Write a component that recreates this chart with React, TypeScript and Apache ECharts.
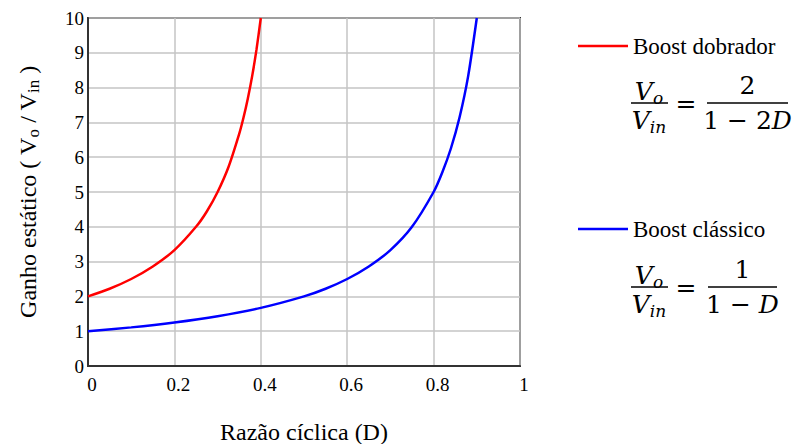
import React, { useEffect, useRef } from 'react';
import * as echarts from 'echarts';

// Boost dobrador: Vo/Vin = 2/(1-2D)
const dutyDobrador = [0, 0.05, 0.1, 0.15, 0.2, 0.25, 0.275, 0.3, 0.325, 0.35, 0.36, 0.37, 0.38, 0.39, 0.4];
const gainDobrador = [2, 2.22, 2.5, 2.86, 3.33, 4, 4.44, 5, 5.71, 6.67, 7.14, 7.69, 8.33, 9.09, 10];
// Boost clássico: Vo/Vin = 1/(1-D)
const dutyClassico = [0, 0.1, 0.2, 0.3, 0.4, 0.5, 0.55, 0.6, 0.65, 0.7, 0.75, 0.8, 0.82, 0.84, 0.86, 0.88, 0.9];
const gainClassico = [1, 1.11, 1.25, 1.43, 1.67, 2, 2.22, 2.5, 2.86, 3.33, 4, 5, 5.56, 6.25, 7.14, 8.33, 10];
const seriesNames = ['Boost dobrador', 'Boost clássico'];
const xTitle = 'Razão cíclica (D)';

const SERIF = 'Liberation Serif, serif';
const MATH = 'DejaVu Serif, serif';

export default function App() {
  const ref = useRef<HTMLDivElement>(null);
  useEffect(() => {
    if (!ref.current) return;
    const chart = echarts.init(ref.current, undefined, { renderer: 'svg' });
    const rich = {
      v: { fontFamily: MATH, fontSize: 25, fontStyle: 'italic', lineHeight: 30, color: '#000' },
      s: { fontFamily: MATH, fontSize: 17, fontStyle: 'italic', lineHeight: 14, verticalAlign: 'bottom', color: '#000' },
      n: { fontFamily: MATH, fontSize: 25, lineHeight: 30, color: '#000' },
    };
    const txt = (x: number, y: number, text: string) => ({
      type: 'text', x, y, silent: true,
      style: { text, textAlign: 'center', textVerticalAlign: 'middle', rich, fill: '#000', fontFamily: MATH, fontSize: 25 },
    });
    const bar = (x1: number, x2: number, y: number) => ({
      type: 'line', silent: true,
      shape: { x1, y1: y, x2, y2: y },
      style: { stroke: '#000', lineWidth: 1.6 },
    });
    const formula = (yMid: number, num: string, den: string, rx1: number, rx2: number) => [
      txt(649, yMid - 12, '{v|V}{s|o}'),
      bar(631, 668, yMid),
      txt(649, yMid + 17, '{v|V}{s|in}'),
      txt(686, yMid, '{n|=}'),
      txt((rx1 + rx2) / 2, yMid - 18, num),
      bar(rx1, rx2, yMid),
      txt((rx1 + rx2) / 2, yMid + 17, den),
    ];

    chart.setOption({
      animation: false,
      grid: {
        left: 88, right: 273, top: 18, bottom: 78, show: true, borderColor: '#333', borderWidth: 2,
        containLabel: false, outerBoundsMode: 'none',
      },
      legend: {
        data: seriesNames,
        orient: 'vertical',
        left: 573,
        top: 29,
        itemWidth: 50,
        itemHeight: 2.5,
        itemGap: 159,
        icon: 'rect',
        textStyle: { fontFamily: SERIF, fontSize: 23, color: '#000', lineHeight: 24 },
      },
      xAxis: {
        type: 'value', min: 0, max: 1, interval: 0.2,
        name: xTitle, nameLocation: 'middle', nameGap: 54,
        nameTextStyle: { fontFamily: SERIF, fontSize: 24, color: '#000' },
        axisLine: { show: true, lineStyle: { color: '#333', width: 2 } },
        axisTick: { show: false },
        axisLabel: { fontFamily: SERIF, fontSize: 19, color: '#000', margin: 9, padding: [0, 0, 0, 8] },
        splitLine: { show: true, lineStyle: { color: '#c4c4c4', width: 1.5 } },
      },
      yAxis: {
        type: 'value', min: 0, max: 10, interval: 1,
        name: '{n|Ganho estático ( V}{s|o}{n| / V}{s|in}{n| )}',
        nameLocation: 'middle', nameGap: 46, nameRotate: 90,
        nameTextStyle: {
          fontFamily: SERIF, fontSize: 24, color: '#000',
          rich: {
            n: { fontFamily: SERIF, fontSize: 24, lineHeight: 28, color: '#000' },
            s: { fontFamily: SERIF, fontSize: 17, lineHeight: 12, verticalAlign: 'bottom', color: '#000' },
          },
        },
        axisLine: { show: true, lineStyle: { color: '#333', width: 2 } },
        axisTick: { show: false },
        axisLabel: { fontFamily: SERIF, fontSize: 19, color: '#000', margin: 4, padding: [5, 0, 0, 0] },
        splitLine: { show: true, lineStyle: { color: '#c4c4c4', width: 1.5 } },
      },
      series: [
        {
          name: seriesNames[0], type: 'line', symbol: 'none', smooth: 0.25,
          lineStyle: { color: '#ff0000', width: 2.5 }, itemStyle: { color: '#ff0000' },
          data: dutyDobrador.map((d, i) => [d, gainDobrador[i]]),
        },
        {
          name: seriesNames[1], type: 'line', symbol: 'none', smooth: 0.25,
          lineStyle: { color: '#0000ff', width: 2.5 }, itemStyle: { color: '#0000ff' },
          data: dutyClassico.map((d, i) => [d, gainClassico[i]]),
        },
      ],
      graphic: [
        ...formula(103, '{n|2}', '{n|1 − 2}{v|D}', 707, 788),
        ...formula(287, '{n|1}', '{n|1 − }{v|D}', 708, 777),
      ],
    });
    return () => chart.dispose();
  }, []);
  return <div ref={ref} style={{ position: 'fixed', left: 0, top: 0, width: 793, height: 444, background: '#fff' }} />;
}
